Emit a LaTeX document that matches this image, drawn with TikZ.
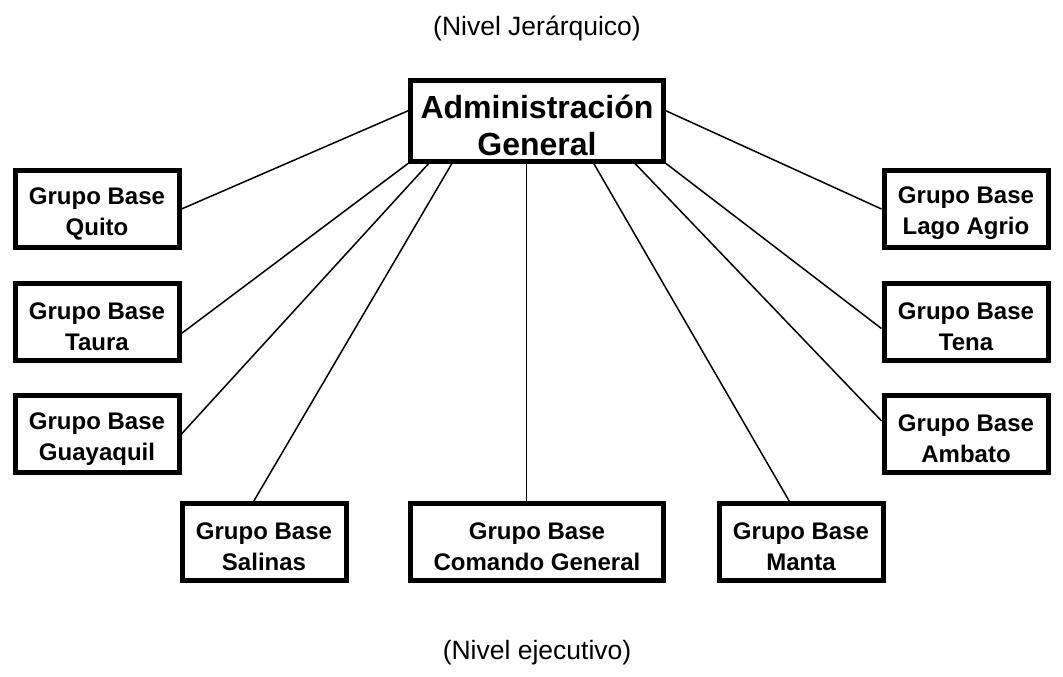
\documentclass[tikz,border=0pt]{standalone}
\usepackage{fontspec}
\setmainfont{Liberation Sans}
\usetikzlibrary{positioning, calc}

\begin{document}
\begin{tikzpicture}[
    x=1pt, y=-1pt,
    unit/.style={rectangle, draw, line width=5pt, inner sep=0pt,
                 minimum width=164pt, minimum height=77pt,
                 align=center, font=\fontsize{24}{31}\selectfont\bfseries,
                 text height=57pt},
    head/.style={unit, minimum width=253pt, minimum height=80pt,
                 font=\fontsize{32}{37}\selectfont\bfseries,
                 text height=70pt},
    level/.style={font=\fontsize{26.5}{30}\selectfont},
    link/.style={draw, line width=1.5pt}
]
\useasboundingbox (0,0) rectangle (1063,677);

\node[level] (lvl_top) at (537,28) {(Nivel Jerárquico)};
\node[head] (admin) at (537,121) {Administración\\General};

% left column
\node[unit] (quito) at (97,209) {Grupo Base\\Quito};
\node[unit, below=31pt of quito] (taura) {Grupo Base\\Taura};
\node[unit, below=30pt of taura] (guayaquil) {Grupo Base\\Guayaquil};

% right column
\node[unit] (lago) at (966,209) {Grupo Base\\Lago Agrio};
\node[unit, below=31pt of lago] (tena) {Grupo Base\\Tena};
\node[unit, below=30pt of tena] (ambato) {Grupo Base\\Ambato};

% bottom row
\node[unit] (salinas) at (264,542) {Grupo Base\\Salinas};
\node[unit, minimum width=253pt] (comando) at (537,542) {Grupo Base\\Comando General};
\node[unit] (manta) at (801,542) {Grupo Base\\Manta};

\node[level] (lvl_bot) at (537,653) {(Nivel ejecutivo)};

% points on the border of the head box
\coordinate (a_qui) at ($(admin.north west)!0.38!(admin.south west)$);
\coordinate (a_lag) at ($(admin.north east)!0.38!(admin.south east)$);
\coordinate (a_gua) at ($(admin.south west)!0.08!(admin.south east)$);
\coordinate (a_sal) at ($(admin.south west)!0.17!(admin.south east)$);
\coordinate (a_com) at ($(admin.south west)!0.46!(admin.south east)$);
\coordinate (a_man) at ($(admin.south west)!0.72!(admin.south east)$);
\coordinate (a_amb) at ($(admin.south west)!0.88!(admin.south east)$);

\draw[link] (a_qui) -- (quito.east);
\draw[link] (admin.south west) -- ($(taura.north east)!0.64!(taura.south east)$);
\draw[link] (a_gua) -- (guayaquil.east);
\draw[link] (a_sal) -- ($(salinas.north west)!0.44!(salinas.north east)$);
\draw[link] (a_com) -- (a_com |- comando.north);
\draw[link] (a_man) -- ($(manta.north west)!0.43!(manta.north east)$);
\draw[link] (a_amb) -- ($(ambato.north west)!0.34!(ambato.south west)$);
\draw[link] (admin.south east) -- ($(tena.north west)!0.58!(tena.south west)$);
\draw[link] (a_lag) -- (lago.west);
\end{tikzpicture}
\end{document}
